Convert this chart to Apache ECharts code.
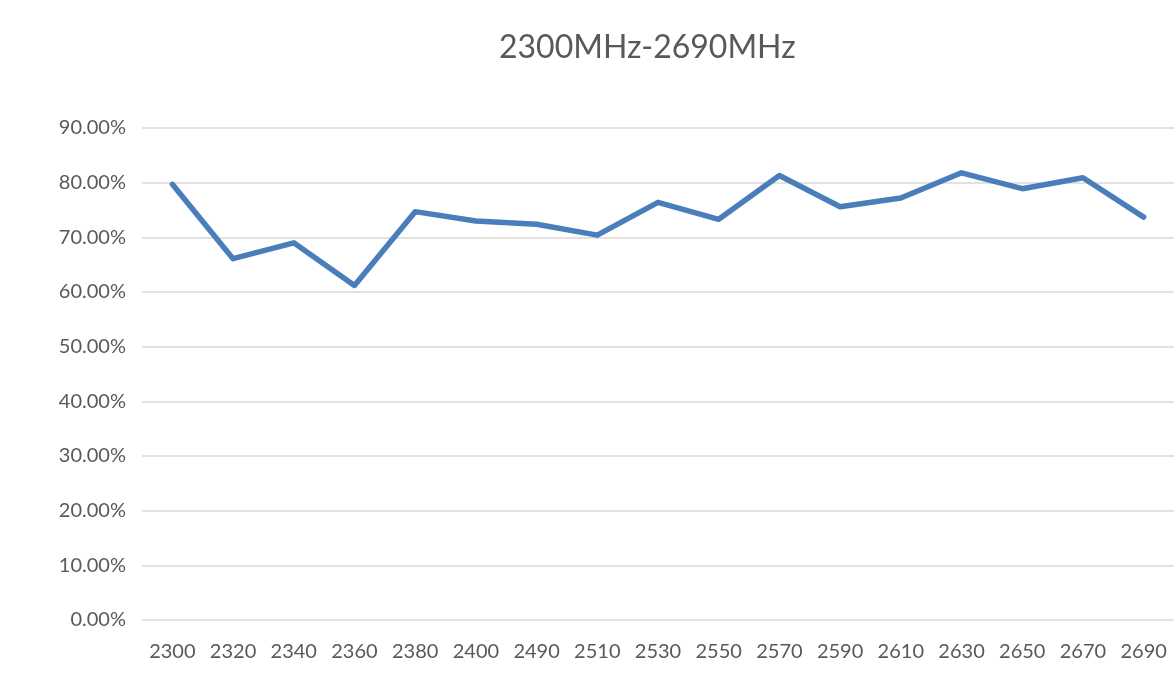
<!DOCTYPE html>
<html>
<head>
<meta charset="utf-8">
<script src="https://cdn.jsdelivr.net/npm/echarts@6/dist/echarts.min.js"></script>
<style>
html,body{margin:0;padding:0;background:#fff;}
#chart{width:1174px;height:699px;}
</style>
</head>
<body>
<div id="chart"></div>
<script>
const titleText = '2300MHz-2690MHz';
const categories = ['2300','2320','2340','2360','2380','2400','2490','2510','2530','2550','2570','2590','2610','2630','2650','2670','2690'];
const efficiency = [79.7, 66.1, 69.0, 61.2, 74.7, 73.0, 72.4, 70.4, 76.4, 73.3, 81.3, 75.6, 77.2, 81.8, 78.9, 80.9, 73.7];
const yMin = 0, yMax = 90, yStep = 10;

const chart = echarts.init(document.getElementById('chart'), null, {renderer: 'canvas'});
chart.setOption({
  animation: false,
  backgroundColor: '#ffffff',
  title: {
    text: titleText,
    left: 494,
    top: 27,
    textStyle: {fontFamily: 'Lato', fontSize: 32, fontWeight: 'normal', color: '#595959'}
  },
  grid: {left: 142, right: 0, top: 128, bottom: 79, containLabel: false},
  xAxis: {
    type: 'category',
    data: categories,
    boundaryGap: true,
    axisLine: {show: false},
    axisTick: {show: false},
    axisLabel: {interval: 0, margin: 22, fontFamily: 'Lato', fontSize: 20, color: '#595959'}
  },
  yAxis: {
    type: 'value',
    min: yMin, max: yMax, interval: yStep,
    axisLine: {show: false},
    axisTick: {show: false},
    splitLine: {lineStyle: {color: '#d9d9d9', width: 1.5}},
    axisLabel: {margin: 16, fontFamily: 'Lato', fontSize: 20, color: '#595959',
      formatter: v => v.toFixed(2) + '%'}
  },
  series: [{
    type: 'line',
    data: efficiency,
    symbol: 'none',
    lineStyle: {color: '#4a7ebb', width: 5.5, join: 'round', cap: 'round'}
  }]
});
</script>
</body>
</html>
